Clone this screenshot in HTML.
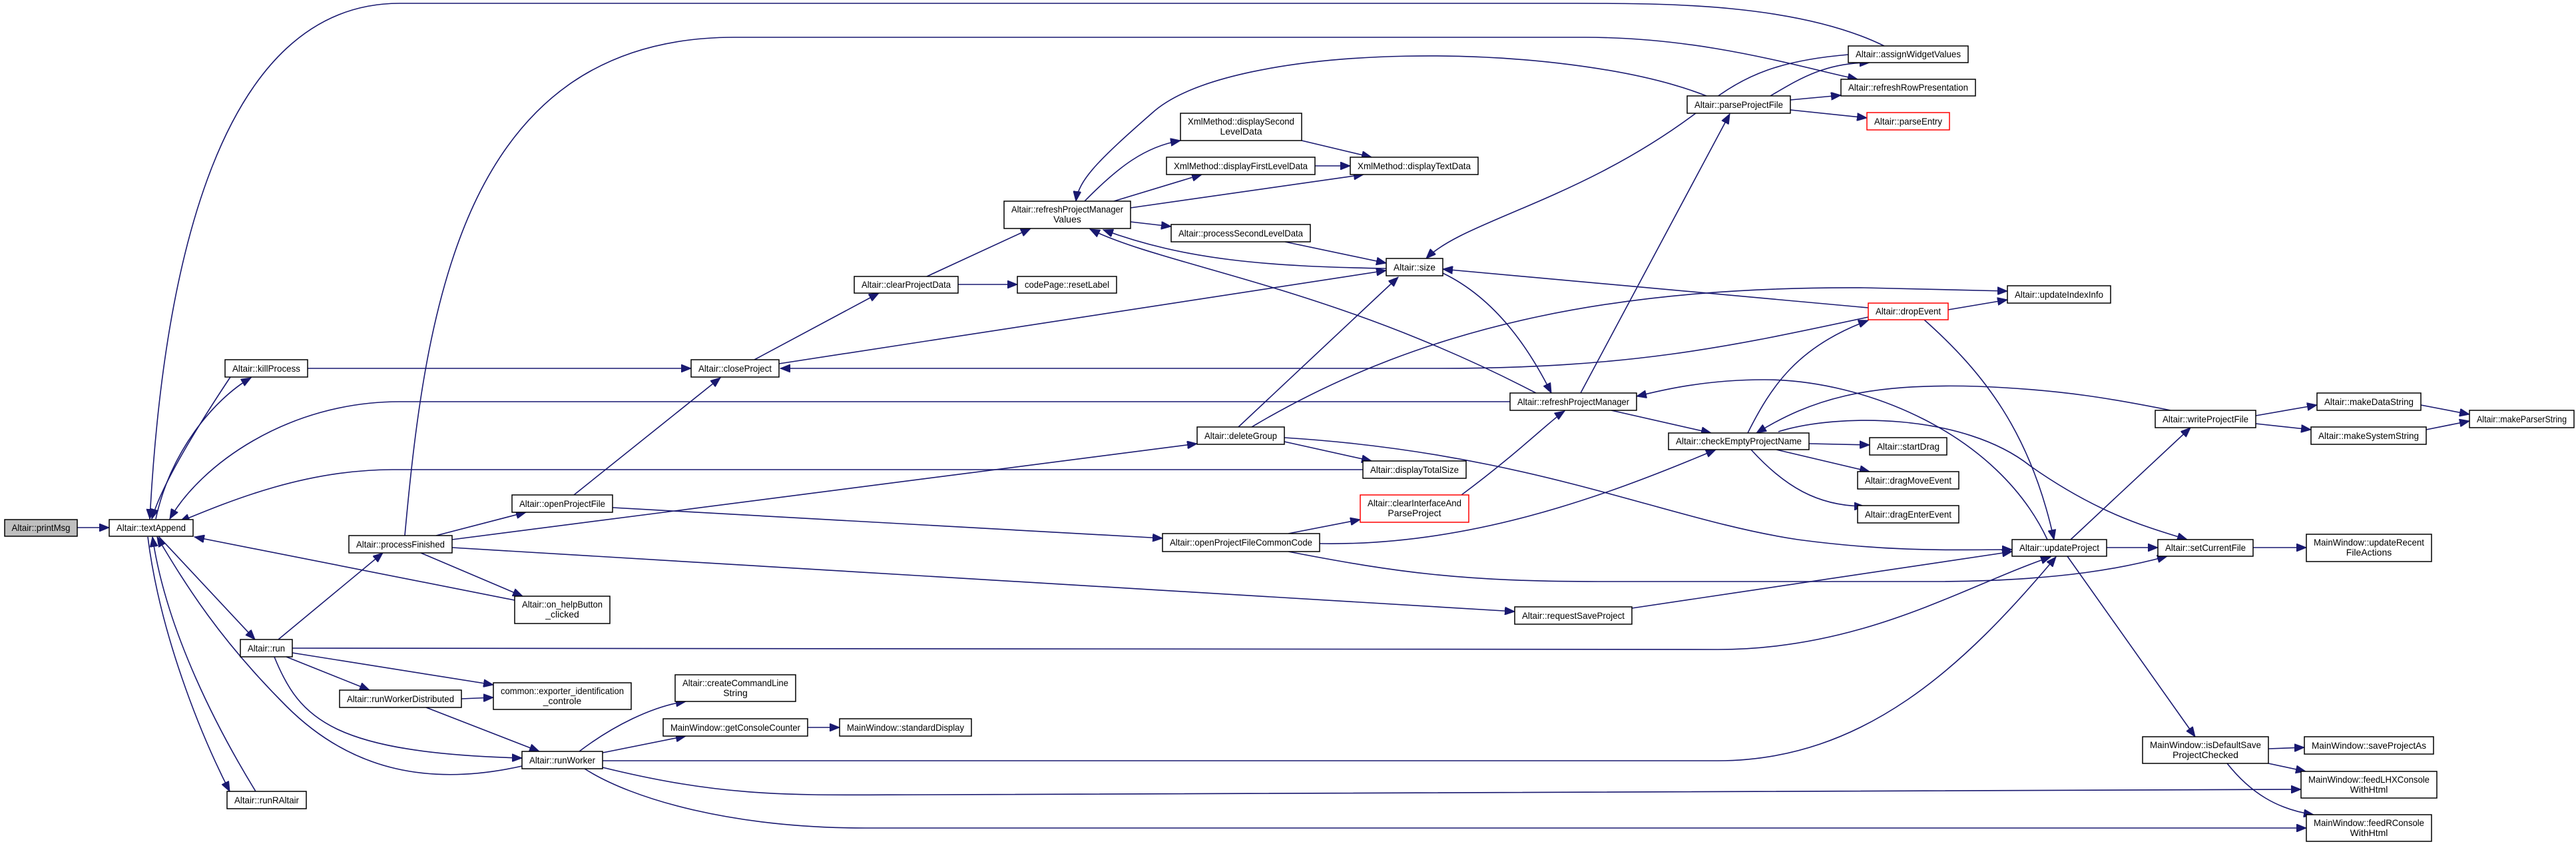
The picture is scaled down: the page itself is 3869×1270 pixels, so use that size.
<!DOCTYPE html>
<html><head><meta charset="utf-8">
<style>
html,body{margin:0;padding:0;background:#fff;}
svg{display:block;}
text{font-family:"Liberation Sans",sans-serif;font-size:14px;fill:#000;}
.e{fill:none;stroke:#191970;stroke-width:1.6;}
.n{fill:#fff;stroke:#000;stroke-width:1.5;}
.r{fill:#fff;stroke:#ff0000;stroke-width:1.5;}
</style></head>
<body>
<svg width="3869" height="1270" viewBox="0 0 3869 1270" xmlns="http://www.w3.org/2000/svg">
<defs>
<marker id="a" markerUnits="userSpaceOnUse" markerWidth="16" markerHeight="12" refX="15" refY="6" orient="auto">
<path d="M0,0 L15,6 L0,12 z" fill="#191970" stroke="#191970"/>
</marker>
</defs>
<g marker-end="url(#a)">
<path class="e" d="M116,792 L164,792"/>
<path class="e" d="M234,779 C255,680 320,600 377,567"/>
<path class="e" d="M346,566 C310,620 245,720 228,779"/>
<path class="e" d="M238,805 L383,960"/>
<path class="e" d="M418,960 L575,830"/>
<path class="e" d="M462,553 L1038,553"/>
<path class="e" d="M2830,69 C2700,5 2500,5 2369,5 L600,5 C330,5 245,400 225,779"/>
<path class="e" d="M608,804 C640,450 700,56 1103,56 L2380,56 C2560,56 2700,100 2790,119"/>
<path class="e" d="M2268,603 L600,603 C430,603 300,700 255,779"/>
<path class="e" d="M2047,705 L590,705 C460,705 350,750 270,783"/>
<path class="e" d="M773,901 L292,806"/>
<path class="e" d="M784,1150 C650,1180 530,1160 430,1060 C330,960 280,880 236,806"/>
<path class="e" d="M384,1188 C330,1100 250,950 229,806"/>
<path class="e" d="M222,806 C240,950 300,1100 345,1188"/>
<path class="e" d="M655,804 L790,769"/>
<path class="e" d="M632,830 L785,895"/>
<path class="e" d="M679,810 L1798,666"/>
<path class="e" d="M679,822 L2275,918"/>
<path class="e" d="M862,743 L1082,567"/>
<path class="e" d="M920,762 L1746,808"/>
<path class="e" d="M439,973 L2580,975 C2800,975 2950,880 3080,836"/>
<path class="e" d="M430,986 L555,1036"/>
<path class="e" d="M439,980 L741,1028"/>
<path class="e" d="M412,986 C450,1080 500,1130 784,1138"/>
<path class="e" d="M693,1049 L741,1047"/>
<path class="e" d="M640,1062 L810,1128"/>
<path class="e" d="M870,1128 C920,1090 980,1060 1030,1053"/>
<path class="e" d="M905,1130 L1030,1105"/>
<path class="e" d="M905,1142 L2580,1142 C2800,1142 2950,1000 3088,836"/>
<path class="e" d="M905,1152 C1100,1200 1200,1193 1400,1193 L3456,1185"/>
<path class="e" d="M878,1154 C950,1200 1100,1243 1300,1243 L3464,1243"/>
<path class="e" d="M1213,1092 L1261,1092"/>
<path class="e" d="M1133,540 L1320,440"/>
<path class="e" d="M1170,546 L2082,406"/>
<path class="e" d="M1392,415 L1548,343"/>
<path class="e" d="M1439,427 L1528,427"/>
<path class="e" d="M1629,302 C1680,250 1720,220 1773,211"/>
<path class="e" d="M1673,302 L1805,262"/>
<path class="e" d="M1698,312 L2048,262"/>
<path class="e" d="M1698,333 L1759,340"/>
<path class="e" d="M1955,211 L2060,236"/>
<path class="e" d="M1975,249 L2028,249"/>
<path class="e" d="M1930,363 L2082,395"/>
<path class="e" d="M2082,403 C1900,400 1780,390 1657,345"/>
<path class="e" d="M2307,590 C2000,430 1750,400 1637,344"/>
<path class="e" d="M2563,144 C2350,60 1850,60 1730,170 C1650,240 1620,270 1616,302"/>
<path class="e" d="M2659,144 C2700,120 2740,94 2808,94"/>
<path class="e" d="M2689,150 L2765,143"/>
<path class="e" d="M2689,165 L2804,177"/>
<path class="e" d="M2776,82 C2680,90 2620,110 2560,160 C2380,300 2200,330 2142,388"/>
<path class="e" d="M2167,410 C2250,450 2300,530 2330,590"/>
<path class="e" d="M2374,590 L2598,171"/>
<path class="e" d="M2420,616 L2570,650"/>
<path class="e" d="M3075,810 C3000,650 2800,570 2650,570 C2550,570 2480,590 2458,595"/>
<path class="e" d="M2806,476 C2600,520 2450,553 2160,553 L1172,553"/>
<path class="e" d="M2926,465 L3015,450"/>
<path class="e" d="M2890,480 C2980,560 3050,650 3085,810"/>
<path class="e" d="M2806,462 L2167,404"/>
<path class="e" d="M1880,641 C2150,480 2450,430 2800,432 L3015,437"/>
<path class="e" d="M1860,641 L2100,416"/>
<path class="e" d="M1929,663 L2060,692"/>
<path class="e" d="M1929,657 C2300,680 2500,780 2700,810 C2850,830 2950,825 3022,825"/>
<path class="e" d="M2625,650 C2660,580 2700,520 2806,481"/>
<path class="e" d="M2717,666 L2808,668"/>
<path class="e" d="M2668,675 L2808,708"/>
<path class="e" d="M2630,675 C2680,730 2730,760 2800,760"/>
<path class="e" d="M2671,648 C2760,620 2950,620 3050,700 C3150,770 3220,790 3285,810"/>
<path class="e" d="M3260,616 C3180,600 3100,585 2970,580 C2800,575 2720,600 2638,650"/>
<path class="e" d="M1935,801 L2043,780"/>
<path class="e" d="M1982,816 C2200,820 2400,750 2577,675"/>
<path class="e" d="M1935,828 C2100,860 2200,873 2400,873 L2900,873 C3100,873 3200,850 3255,835"/>
<path class="e" d="M2195,743 C2280,680 2330,630 2350,617"/>
<path class="e" d="M2451,913 L3022,828"/>
<path class="e" d="M3164,822 L3241,822"/>
<path class="e" d="M3110,810 L3290,642"/>
<path class="e" d="M3105,835 L3297,1106"/>
<path class="e" d="M3384,822 L3464,822"/>
<path class="e" d="M3388,624 L3480,608"/>
<path class="e" d="M3388,636 L3471,645"/>
<path class="e" d="M3636,608 L3709,622"/>
<path class="e" d="M3644,645 L3709,632"/>
<path class="e" d="M3407,1124 L3461,1122"/>
<path class="e" d="M3407,1146 L3463,1158"/>
<path class="e" d="M3345,1146 C3380,1190 3420,1215 3475,1223"/>
</g>

<!-- nodes -->
<rect x="7" y="780" width="109" height="25" fill="#bfbfbf" stroke="#000" stroke-width="1.5"/>
<text x="61.5" y="797" text-anchor="middle" textLength="88" lengthAdjust="spacingAndGlyphs">Altair::printMsg</text>

<rect class="n" x="164" y="780" width="126" height="25"/>
<text x="227" y="797" text-anchor="middle" textLength="104" lengthAdjust="spacingAndGlyphs">Altair::textAppend</text>

<rect class="n" x="338" y="540" width="124" height="26"/>
<text x="400" y="558" text-anchor="middle" textLength="102" lengthAdjust="spacingAndGlyphs">Altair::killProcess</text>

<rect class="n" x="1038" y="540" width="132" height="26"/>
<text x="1104" y="558" text-anchor="middle" textLength="110" lengthAdjust="spacingAndGlyphs">Altair::closeProject</text>

<rect class="n" x="769" y="743" width="151" height="26"/>
<text x="844.5" y="761" text-anchor="middle" textLength="129" lengthAdjust="spacingAndGlyphs">Altair::openProjectFile</text>

<rect class="n" x="524" y="804" width="155" height="26"/>
<text x="601.5" y="822" text-anchor="middle" textLength="133" lengthAdjust="spacingAndGlyphs">Altair::processFinished</text>

<rect class="n" x="773" y="895" width="143" height="41"/>
<text x="844.5" y="912" text-anchor="middle" textLength="121" lengthAdjust="spacingAndGlyphs">Altair::on_helpButton</text>
<text x="844.5" y="927" text-anchor="middle">_clicked</text>

<rect class="n" x="361" y="960" width="78" height="26"/>
<text x="400" y="978" text-anchor="middle" textLength="56" lengthAdjust="spacingAndGlyphs">Altair::run</text>

<rect class="n" x="510" y="1036" width="183" height="26"/>
<text x="601.5" y="1054" text-anchor="middle" textLength="161" lengthAdjust="spacingAndGlyphs">Altair::runWorkerDistributed</text>

<rect class="n" x="741" y="1025" width="207" height="40"/>
<text x="844.5" y="1042" text-anchor="middle" textLength="185" lengthAdjust="spacingAndGlyphs">common::exporter_identification</text>
<text x="844.5" y="1057" text-anchor="middle">_controle</text>

<rect class="n" x="1014" y="1013" width="181" height="40"/>
<text x="1104.5" y="1030" text-anchor="middle" textLength="159" lengthAdjust="spacingAndGlyphs">Altair::createCommandLine</text>
<text x="1104.5" y="1045" text-anchor="middle">String</text>

<rect class="n" x="996" y="1079" width="217" height="26"/>
<text x="1104.5" y="1097" text-anchor="middle" textLength="195" lengthAdjust="spacingAndGlyphs">MainWindow::getConsoleCounter</text>

<rect class="n" x="1261" y="1079" width="198" height="26"/>
<text x="1360" y="1097" text-anchor="middle" textLength="176" lengthAdjust="spacingAndGlyphs">MainWindow::standardDisplay</text>

<rect class="n" x="784" y="1128" width="121" height="26"/>
<text x="844.5" y="1146" text-anchor="middle" textLength="99" lengthAdjust="spacingAndGlyphs">Altair::runWorker</text>

<rect class="n" x="341" y="1188" width="119" height="26"/>
<text x="400.5" y="1206" text-anchor="middle" textLength="97" lengthAdjust="spacingAndGlyphs">Altair::runRAltair</text>

<rect class="n" x="1283" y="415" width="156" height="25"/>
<text x="1361" y="432" text-anchor="middle" textLength="134" lengthAdjust="spacingAndGlyphs">Altair::clearProjectData</text>

<rect class="n" x="1528" y="415" width="149" height="25"/>
<text x="1602.5" y="432" text-anchor="middle" textLength="127" lengthAdjust="spacingAndGlyphs">codePage::resetLabel</text>

<rect class="n" x="1508" y="302" width="190" height="41"/>
<text x="1603" y="319" text-anchor="middle" textLength="168" lengthAdjust="spacingAndGlyphs">Altair::refreshProjectManager</text>
<text x="1603" y="334" text-anchor="middle">Values</text>

<rect class="n" x="1773" y="170" width="182" height="41"/>
<text x="1864" y="187" text-anchor="middle" textLength="160" lengthAdjust="spacingAndGlyphs">XmlMethod::displaySecond</text>
<text x="1864" y="202" text-anchor="middle">LevelData</text>

<rect class="n" x="1752" y="236" width="223" height="26"/>
<text x="1863.5" y="254" text-anchor="middle" textLength="201" lengthAdjust="spacingAndGlyphs">XmlMethod::displayFirstLevelData</text>

<rect class="n" x="2028" y="236" width="192" height="26"/>
<text x="2124" y="254" text-anchor="middle" textLength="170" lengthAdjust="spacingAndGlyphs">XmlMethod::displayTextData</text>

<rect class="n" x="1759" y="337" width="209" height="26"/>
<text x="1863.5" y="355" text-anchor="middle" textLength="187" lengthAdjust="spacingAndGlyphs">Altair::processSecondLevelData</text>

<rect class="n" x="2082" y="388" width="85" height="26"/>
<text x="2124.5" y="406" text-anchor="middle" textLength="63" lengthAdjust="spacingAndGlyphs">Altair::size</text>

<rect class="n" x="1798" y="641" width="131" height="26"/>
<text x="1863.5" y="659" text-anchor="middle" textLength="109" lengthAdjust="spacingAndGlyphs">Altair::deleteGroup</text>

<rect class="n" x="2047" y="692" width="155" height="26"/>
<text x="2124.5" y="710" text-anchor="middle" textLength="133" lengthAdjust="spacingAndGlyphs">Altair::displayTotalSize</text>

<rect class="r" x="2043" y="743" width="163" height="41"/>
<text x="2124.5" y="760" text-anchor="middle" textLength="141" lengthAdjust="spacingAndGlyphs">Altair::clearInterfaceAnd</text>
<text x="2124.5" y="775" text-anchor="middle">ParseProject</text>

<rect class="n" x="1746" y="801" width="236" height="27"/>
<text x="1864" y="819" text-anchor="middle" textLength="214" lengthAdjust="spacingAndGlyphs">Altair::openProjectFileCommonCode</text>

<rect class="n" x="2275" y="911" width="176" height="26"/>
<text x="2363" y="929" text-anchor="middle" textLength="154" lengthAdjust="spacingAndGlyphs">Altair::requestSaveProject</text>

<rect class="n" x="2268" y="590" width="190" height="26"/>
<text x="2363" y="608" text-anchor="middle" textLength="168" lengthAdjust="spacingAndGlyphs">Altair::refreshProjectManager</text>

<rect class="n" x="2534" y="144" width="155" height="26"/>
<text x="2611.5" y="162" text-anchor="middle" textLength="133" lengthAdjust="spacingAndGlyphs">Altair::parseProjectFile</text>

<rect class="n" x="2776" y="69" width="180" height="25"/>
<text x="2866" y="86" text-anchor="middle" textLength="158" lengthAdjust="spacingAndGlyphs">Altair::assignWidgetValues</text>

<rect class="n" x="2765" y="119" width="202" height="25"/>
<text x="2866" y="136" text-anchor="middle" textLength="180" lengthAdjust="spacingAndGlyphs">Altair::refreshRowPresentation</text>

<rect class="r" x="2804" y="169" width="124" height="26"/>
<text x="2866" y="187" text-anchor="middle" textLength="102" lengthAdjust="spacingAndGlyphs">Altair::parseEntry</text>

<rect class="n" x="3015" y="429" width="155" height="26"/>
<text x="3092.5" y="447" text-anchor="middle" textLength="133" lengthAdjust="spacingAndGlyphs">Altair::updateIndexInfo</text>

<rect class="r" x="2806" y="455" width="120" height="25"/>
<text x="2866" y="472" text-anchor="middle" textLength="98" lengthAdjust="spacingAndGlyphs">Altair::dropEvent</text>

<rect class="n" x="2506" y="650" width="211" height="25"/>
<text x="2611.5" y="667" text-anchor="middle" textLength="189" lengthAdjust="spacingAndGlyphs">Altair::checkEmptyProjectName</text>

<rect class="n" x="2808" y="657" width="116" height="26"/>
<text x="2866" y="675" text-anchor="middle" textLength="94" lengthAdjust="spacingAndGlyphs">Altair::startDrag</text>

<rect class="n" x="2790" y="708" width="152" height="26"/>
<text x="2866" y="726" text-anchor="middle" textLength="130" lengthAdjust="spacingAndGlyphs">Altair::dragMoveEvent</text>

<rect class="n" x="2790" y="759" width="152" height="26"/>
<text x="2866" y="777" text-anchor="middle" textLength="130" lengthAdjust="spacingAndGlyphs">Altair::dragEnterEvent</text>

<rect class="n" x="3022" y="810" width="142" height="25"/>
<text x="3093" y="827" text-anchor="middle" textLength="120" lengthAdjust="spacingAndGlyphs">Altair::updateProject</text>

<rect class="n" x="3241" y="810" width="143" height="25"/>
<text x="3312.5" y="827" text-anchor="middle" textLength="121" lengthAdjust="spacingAndGlyphs">Altair::setCurrentFile</text>

<rect class="n" x="3464" y="802" width="188" height="41"/>
<text x="3558" y="819" text-anchor="middle" textLength="166" lengthAdjust="spacingAndGlyphs">MainWindow::updateRecent</text>
<text x="3558" y="834" text-anchor="middle">FileActions</text>

<rect class="n" x="3237" y="616" width="151" height="26"/>
<text x="3312.5" y="634" text-anchor="middle" textLength="129" lengthAdjust="spacingAndGlyphs">Altair::writeProjectFile</text>

<rect class="n" x="3480" y="590" width="156" height="26"/>
<text x="3558" y="608" text-anchor="middle" textLength="134" lengthAdjust="spacingAndGlyphs">Altair::makeDataString</text>

<rect class="n" x="3471" y="641" width="173" height="26"/>
<text x="3557.5" y="659" text-anchor="middle" textLength="151" lengthAdjust="spacingAndGlyphs">Altair::makeSystemString</text>

<rect class="n" x="3709" y="616" width="157" height="26"/>
<text x="3787.5" y="634" text-anchor="middle" textLength="135" lengthAdjust="spacingAndGlyphs">Altair::makeParserString</text>

<rect class="n" x="3218" y="1106" width="189" height="40"/>
<text x="3312.5" y="1123" text-anchor="middle" textLength="167" lengthAdjust="spacingAndGlyphs">MainWindow::isDefaultSave</text>
<text x="3312.5" y="1138" text-anchor="middle">ProjectChecked</text>

<rect class="n" x="3461" y="1106" width="194" height="26"/>
<text x="3558" y="1124" text-anchor="middle" textLength="172" lengthAdjust="spacingAndGlyphs">MainWindow::saveProjectAs</text>

<rect class="n" x="3456" y="1158" width="204" height="40"/>
<text x="3558" y="1175" text-anchor="middle" textLength="182" lengthAdjust="spacingAndGlyphs">MainWindow::feedLHXConsole</text>
<text x="3558" y="1190" text-anchor="middle">WithHtml</text>

<rect class="n" x="3464" y="1223" width="188" height="40"/>
<text x="3558" y="1240" text-anchor="middle" textLength="166" lengthAdjust="spacingAndGlyphs">MainWindow::feedRConsole</text>
<text x="3558" y="1255" text-anchor="middle">WithHtml</text>
</svg>
</body></html>
